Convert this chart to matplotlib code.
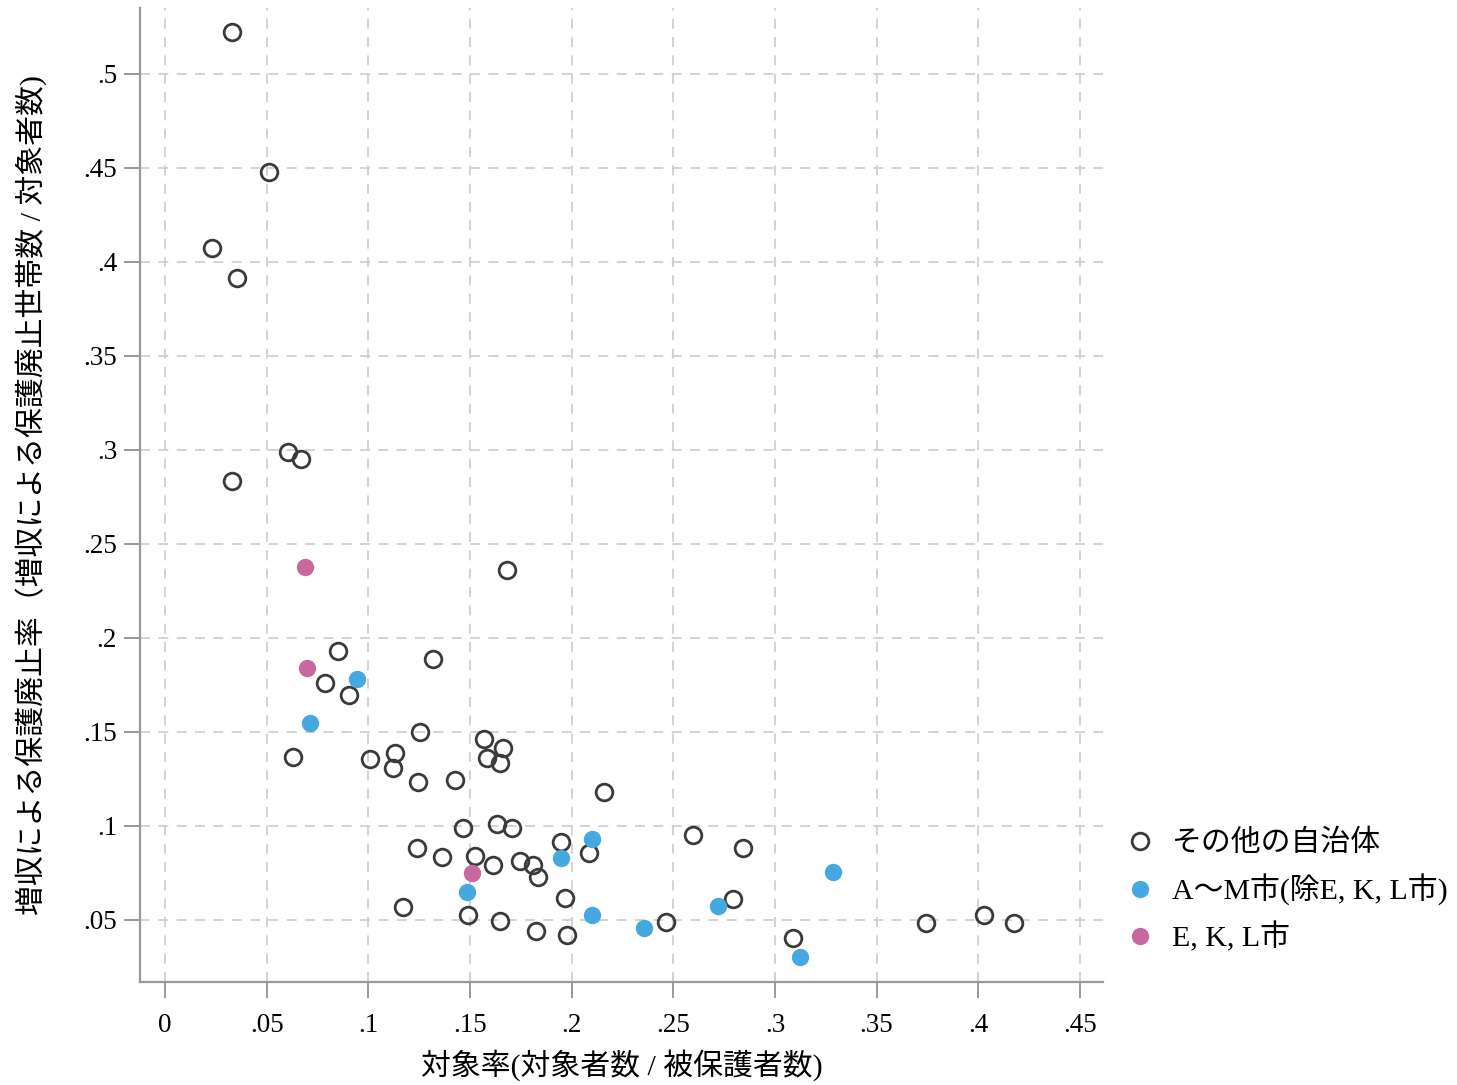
import matplotlib
matplotlib.use("Agg")
import matplotlib.pyplot as plt
from matplotlib.ticker import FuncFormatter

plt.rcParams['font.family'] = ['Liberation Serif', 'Noto Sans CJK JP']

# その他の自治体
other_x = [0.033, 0.0512, 0.0231, 0.0354, 0.0605, 0.0669, 0.033, 0.1682, 0.0851, 0.1318,
           0.0787, 0.0905, 0.0630, 0.1008, 0.1131, 0.1122, 0.1254, 0.1245, 0.1426, 0.1569,
           0.1662, 0.1584, 0.1648, 0.2159, 0.1466, 0.1633, 0.1707, 0.1240, 0.1363, 0.1525,
           0.1613, 0.1746, 0.1810, 0.1835, 0.1948, 0.2086, 0.1968, 0.1171, 0.1490, 0.1648,
           0.1825, 0.1977, 0.2597, 0.2843, 0.2464, 0.2794, 0.3089, 0.3743, 0.4029, 0.4176]
other_y = [0.5223, 0.4479, 0.4074, 0.3915, 0.2989, 0.2952, 0.2835, 0.2362, 0.1931, 0.1888,
           0.1761, 0.1697, 0.1367, 0.1356, 0.1388, 0.1309, 0.1500, 0.1234, 0.1245, 0.1463,
           0.1415, 0.1362, 0.1335, 0.1181, 0.0989, 0.1011, 0.0989, 0.0883, 0.0835, 0.0840,
           0.0793, 0.0814, 0.0793, 0.0729, 0.0915, 0.0856, 0.0617, 0.0569, 0.0527, 0.0495,
           0.0441, 0.0420, 0.0952, 0.0883, 0.0489, 0.0612, 0.0404, 0.0484, 0.0527, 0.0484]

# A～M市(除E, K, L市)
am_x = [0.0944, 0.0713, 0.1948, 0.2100, 0.1486, 0.2100, 0.2356, 0.2720, 0.3286, 0.3123]
am_y = [0.1782, 0.1548, 0.0830, 0.0931, 0.0649, 0.0527, 0.0457, 0.0574, 0.0755, 0.0303]

# E, K, L市
ekl_x = [0.0689, 0.0698, 0.1510]
ekl_y = [0.2378, 0.1840, 0.0750]

ticks_x = [0, 0.05, 0.1, 0.15, 0.2, 0.25, 0.3, 0.35, 0.4, 0.45]
ticks_y = [0.05, 0.1, 0.15, 0.2, 0.25, 0.3, 0.35, 0.4, 0.45, 0.5]


def stata_fmt(v, pos):
    if abs(v) < 1e-9:
        return '0'
    return f'{v:g}'.lstrip('0')


fig = plt.figure(figsize=(14.57, 10.85), dpi=100)
ax = fig.add_axes([0.0961, 0.095, 0.661, 0.8975])

ax.plot(other_x, other_y, 'o', ms=12, mfc='none', mec='#3a3a3a', mew=2.0,
        label='その他の自治体', zorder=3)
ax.plot(am_x, am_y, 'o', ms=12.5, mfc='#45a8e0', mec='none',
        label='A～M市(除E, K, L市)', zorder=3)
ax.plot(ekl_x, ekl_y, 'o', ms=12.5, mfc='#c9679f', mec='none',
        label='E, K, L市', zorder=3)

ax.set_xlim(-0.0123, 0.4614)
ax.set_ylim(0.017, 0.535)
ax.set_xticks(ticks_x)
ax.set_yticks(ticks_y)
ax.xaxis.set_major_formatter(FuncFormatter(stata_fmt))
ax.yaxis.set_major_formatter(FuncFormatter(stata_fmt))
ax.tick_params(axis='both', direction='out', length=11.5, width=1.4, color='#999999',
               labelsize=19.5, pad=5)
ax.tick_params(axis='x', pad=11)

ax.grid(True, color='#cccccc', linestyle=(0, (6, 5)), linewidth=1.2)
ax.set_axisbelow(True)

for side in ['top', 'right']:
    ax.spines[side].set_visible(False)
for side in ['left', 'bottom']:
    ax.spines[side].set_color('#999999')
    ax.spines[side].set_linewidth(1.6)

ax.set_xlabel('対象率(対象者数 / 被保護者数)', fontsize=21.5)
ax.set_ylabel('増収による保護廃止率（増収による保護廃止世帯数 / 対象者数)', fontsize=21.5)
ax.xaxis.set_label_coords(0.5, -0.069)
ax.yaxis.set_label_coords(-0.097, 0.5)

ax.legend(loc='center left', bbox_to_anchor=(1.01, 0.093), frameon=False,
          fontsize=21.5, handlelength=1.0, handletextpad=0.6, labelspacing=0.55,
          borderaxespad=0, markerscale=1.0)

fig.savefig('out.png', dpi=100, facecolor='white')
